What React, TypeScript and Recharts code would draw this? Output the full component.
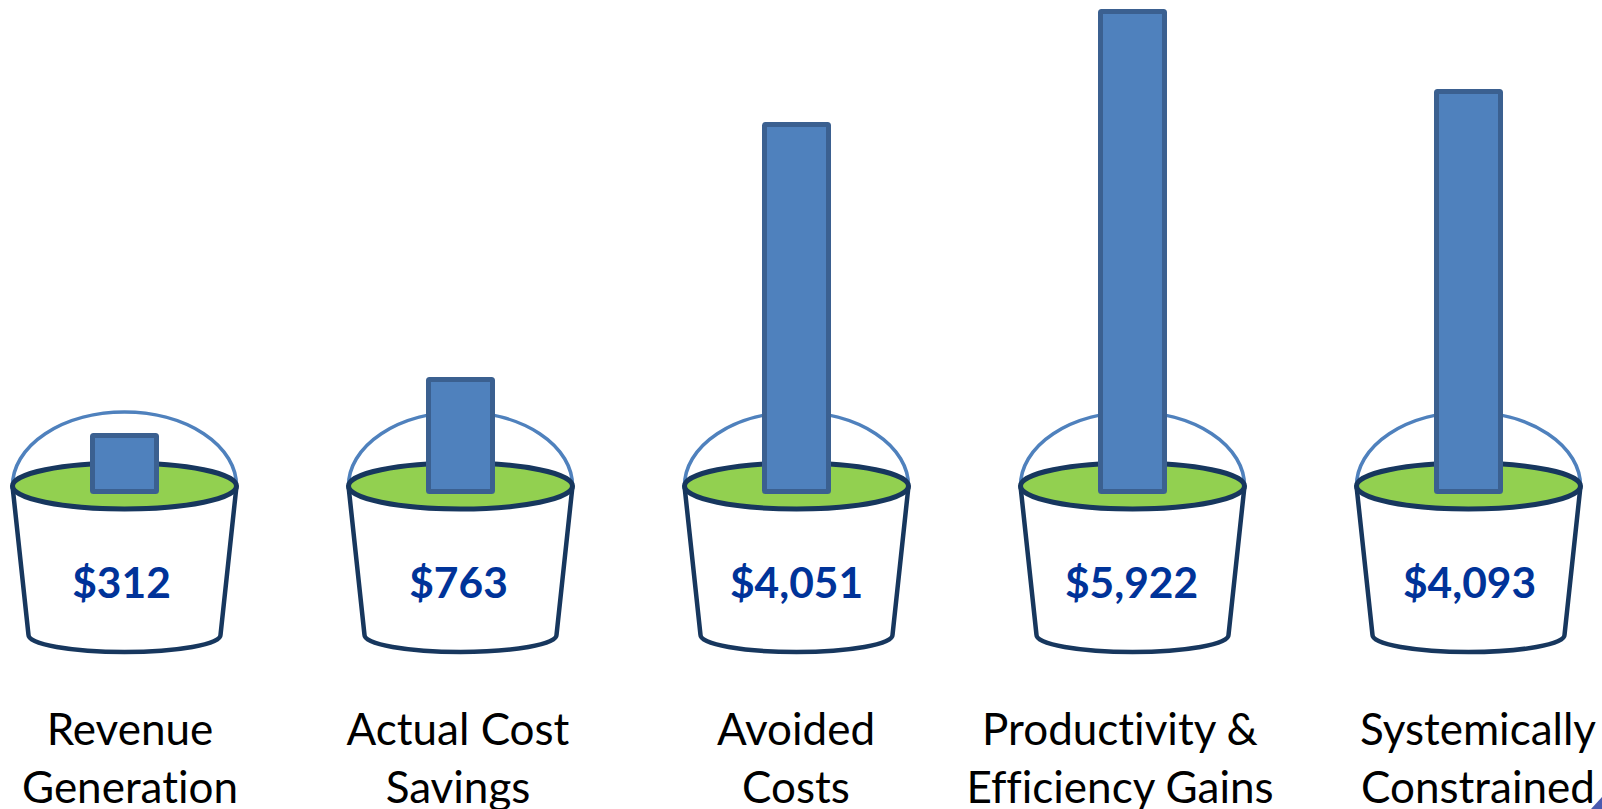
import React from 'react';
import { ComposedChart, Bar, XAxis, YAxis, LabelList } from 'recharts';

// category captions, one entry per line
const categories = [
  ['Revenue', 'Generation'],
  ['Actual Cost', 'Savings'],
  ['Avoided', 'Costs'],
  ['Productivity &', 'Efficiency Gains'],
  ['Systemically', 'Constrained'],
];
const amounts = ['$312', '$763', '$4,051', '$5,922', '$4,093'];
// the drawn bar heights do not follow the printed amounts, so they are read separately
const barHeights = [61, 117, 372, 485, 405];

const captionShift = [6, -2, 0, -12, 10];
const amountShift = [-3, -2, 0, -1, 1];

const FONT = 'Lato, "Open Sans", sans-serif';

const data = categories.map((lines, i) => ({
  name: lines.join(' '),
  amount: amounts[i],
  height: barHeights[i],
}));

function BucketBar({ x, y, width, height }: any) {
  const cx = x + width / 2;
  const base = y + height;
  const rim = base - 8;
  const bottom = base + 141;
  return (
    <g>
      <path
        d={`M${cx - 112} ${rim} A112 74 0 0 1 ${cx + 112} ${rim}`}
        fill="none"
        stroke="#4f81bd"
        strokeWidth={3.5}
      />
      <path
        d={`M${cx - 112} ${rim} L${cx - 96} ${bottom} A96 17 0 0 0 ${cx + 96} ${bottom} L${cx + 112} ${rim}`}
        fill="#fff"
        stroke="#17375e"
        strokeWidth={4.5}
        strokeLinejoin="round"
      />
      <ellipse cx={cx} cy={rim} rx={112} ry={23} fill="#92d050" stroke="#17375e" strokeWidth={5} />
      <rect
        x={x + 2.5}
        y={y + 2.5}
        width={width - 5}
        height={height - 5}
        rx={1}
        fill="#4f81bd"
        stroke="#3b6090"
        strokeWidth={5}
      />
    </g>
  );
}

function CaptionTick({ x, y, index }: any) {
  const lines = categories[index];
  return (
    <g>
      {lines.map((line, i) => (
        <text
          key={line}
          x={x + captionShift[index]}
          y={y + 243 + i * 57.5}
          textAnchor="middle"
          fontFamily={FONT}
          fontSize={44}
          fill="#000"
          style={{ fontVariantLigatures: 'none' }}
        >
          {line}
        </text>
      ))}
    </g>
  );
}

function AmountLabel({ x, y, width, height, value, index }: any) {
  return (
    <text
      x={x + width / 2 + amountShift[index]}
      y={y + height + 104}
      textAnchor="middle"
      fontFamily={FONT}
      fontWeight={700}
      fontSize={42.5}
      fill="#003399"
    >
      {value}
    </text>
  );
}

export default function App() {
  return (
    <div style={{ position: 'fixed', left: 0, top: 0, width: 1602, height: 809, overflow: 'hidden', background: '#fff' }}>
      <ComposedChart width={1602} height={809} data={data} margin={{ top: 9, right: 0, bottom: 0, left: 0 }}>
        <XAxis
          dataKey="name"
          scale="point"
          padding={{ left: 124, right: 134 }}
          height={315}
          axisLine={false}
          tickLine={false}
          interval={0}
          tick={<CaptionTick />}
        />
        <YAxis hide domain={[0, 485]} />
        <Bar dataKey="height" barSize={69} shape={<BucketBar />} isAnimationActive={false}>
          <LabelList dataKey="amount" content={<AmountLabel />} />
        </Bar>
        <polygon points="1591,809 1602,797 1602,809" fill="#4a5ab0" />
      </ComposedChart>
    </div>
  );
}
